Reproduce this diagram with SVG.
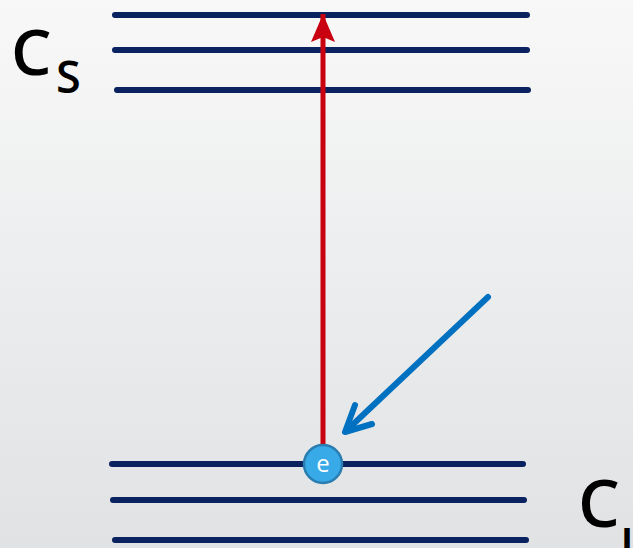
<svg xmlns="http://www.w3.org/2000/svg" width="633" height="548" viewBox="0 0 633 548">
<defs>
<linearGradient id="bg" x1="0" y1="0" x2="0" y2="1">
<stop offset="0" stop-color="#f8f8f8"/>
<stop offset="1" stop-color="#e0e2e4"/>
</linearGradient>
<marker id="redhead" viewBox="0 0 30 30" refX="28" refY="15" markerWidth="30" markerHeight="30" markerUnits="userSpaceOnUse" orient="auto">
<path d="M28,15 L0,3 L5,15 L0,27 Z" fill="#c8000f"/>
</marker>
</defs>
<style>
.lvl{stroke:#0b2260;stroke-width:6;stroke-linecap:round;fill:none}
.lbl{font-family:"Open Sans","Liberation Sans",sans-serif;font-weight:600;fill:#000}
</style>
<rect width="633" height="548" fill="url(#bg)"/>
<g id="levels-s">
<line class="lvl" x1="115" y1="15" x2="527" y2="15"/>
<line class="lvl" x1="115" y1="50" x2="527" y2="50"/>
<line class="lvl" x1="117" y1="90" x2="528" y2="90"/>
</g>
<g id="levels-l">
<line class="lvl" x1="112" y1="464" x2="523" y2="464"/>
<line class="lvl" x1="113" y1="500" x2="524" y2="500"/>
<line class="lvl" x1="115" y1="540" x2="526" y2="540"/>
</g>
<g id="connectors">
<line x1="323" y1="445" x2="323" y2="14" stroke="#c8000f" stroke-width="5" marker-end="url(#redhead)"/>
<g stroke="#0070c0" stroke-width="6" stroke-linecap="round" stroke-linejoin="round" fill="none">
<line x1="488" y1="297" x2="347" y2="430"/>
<polyline points="355,405 345,432 372,424"/>
</g>
</g>
<g id="electron">
<circle cx="323" cy="464" r="19" fill="#38aae8" stroke="#2a7db0" stroke-width="2.5"/>
<text x="323" y="472" text-anchor="middle" font-family="Open Sans, Liberation Sans, sans-serif" font-size="24" fill="#fff">e</text>
</g>
<g id="label-s">
<text class="lbl" x="11" y="75" font-size="64">C</text>
<text class="lbl" x="56" y="93" font-size="45">S</text>
</g>
<g id="label-l">
<text class="lbl" x="578" y="527" font-size="66">C</text>
<text class="lbl" x="620" y="560" font-size="46">I</text>
</g>
</svg>
